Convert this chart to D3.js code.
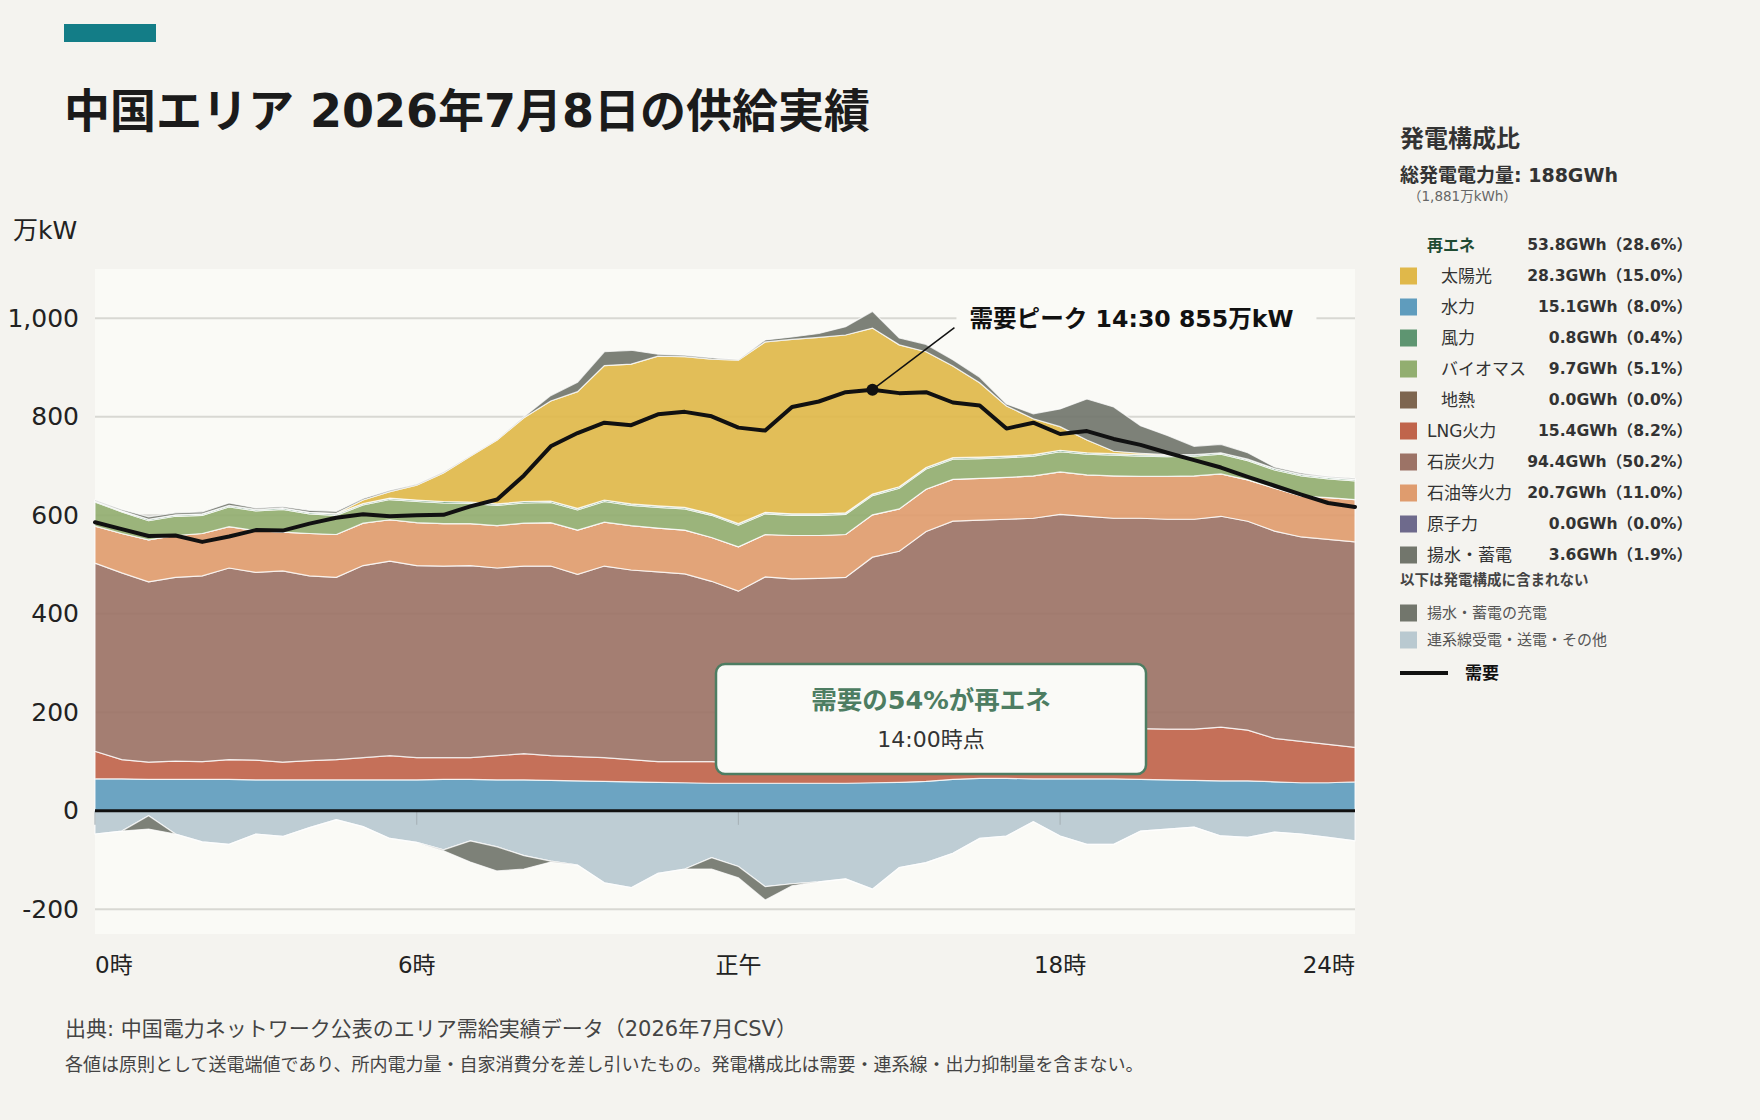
<!DOCTYPE html>
<html lang="ja">
<head>
<meta charset="utf-8"/>
<script src="https://d3js.org/d3.v7.min.js"></script>
<style>
  body { margin: 0; background: #f4f3ef; }
  text { font-family: "DejaVu Sans", "Noto Sans CJK JP", sans-serif; }
</style>
</head>
<body>
<svg id="chart" width="1760" height="1120"></svg>
<script>
  // 30-minute slots, 0:00 - 23:30 (万kW)
  const hours = d3.range(48).map(i => i / 2);

  const hydro = [65,65,64,64,64,64,63,63,63,63, 63,63,63,64,64,63,63,62,61,60, 59,58,57,56,56,56,56,56,56,57, 58,60,64,66,66,65,65,65,65,64, 63,62,61,61,59,57,57,59];
  const lng = [56,39,35,37,36,40,40,36,39,41, 45,49,45,44,44,49,53,50,49,48, 45,42,43,44,42,42,44,44,46,48, 52,60,66,74,84,93,98,101,103,103, 103,104,109,103,88,84,78,70];
  const coal = [382,379,366,373,377,389,381,388,375,370, 390,395,390,389,390,381,381,385,370,389, 385,385,381,366,348,377,371,372,372,410, 417,447,458,450,442,436,439,432,426,427, 426,426,428,424,421,415,416,417];
  const oil = [75,80,85,85,86,84,85,79,86,87, 86,84,87,86,85,86,87,88,90,89, 90,89,89,89,90,86,88,87,87,86, 86,86,85,85,85,86,86,84,86,85, 87,88,86,84,87,83,85,86];
  const nuclear = [0,0,0,0,0,0,0,0,0,0, 0,0,0,0,0,0,0,0,0,0, 0,0,0,0,0,0,0,0,0,0, 0,0,0,0,0,0,0,0,0,0, 0,0,0,0,0,0,0,0];
  const biomass = [49,44,39,39,37,40,40,46,40,39, 37,41,43,42,41,41,41,41,41,42, 41,42,43,45,44,42,41,41,41,39, 42,41,41,40,40,40,41,42,42,41, 40,40,40,39,37,41,38,38];
  const wind = [2,2,3,3,3,3,3,3,3,3, 3,3,3,3,3,3,3,3,3,3, 3,3,3,3,3,3,3,3,3,3, 3,3,3,3,3,3,3,3,3,3, 3,3,3,3,3,3,3,3];
  const geothermal = [0,0,0,0,0,0,0,0,0,0, 0,0,0,0,0,0,0,0,0,0, 0,0,0,0,0,0,0,0,0,0, 0,0,0,0,0,0,0,0,0,0, 0,0,0,0,0,0,0,0];
  const solar = [0,0,0,0,0,0,0,0,0,1, 7,13,30,58,93,130,170,203,237,273, 284,304,306,314,332,346,354,358,361,337, 288,235,186,151,102,73,48,26,5,3, 1,0,0,0,0,0,0,0];
  const pumped = [2,3,5,4,4,5,3,3,4,4, 3,3,2,2,1,1,2,11,19,28, 28,4,3,3,1,4,5,8,17,34, 14,15,13,11,4,10,36,83,90,56, 39,17,17,13,3,3,2,2];
  const interconnect = [-47,-41,-10,-47,-63,-68,-47,-52,-34,-18, -32,-56,-64,-79,-61,-73,-91,-102,-110,-146, -156,-127,-118,-95,-113,-154,-148,-144,-138,-159, -115,-105,-86,-56,-51,-22,-51,-68,-68,-41, -37,-33,-51,-54,-43,-47,-54,-61];
  const charging = [0,0,-27,0,0,0,0,0,0,0, 0,0,0,-2,-43,-49,-27,-2,0,0, 0,0,0,-23,-23,-27,-4,0,0,0, 0,0,0,0,0,0,0,0,0,0, 0,0,0,0,0,0,0,0];
  const demand = [586,572,558,559,546,557,570,569,583,595, 602,598,600,601,618,632,681,740,767,788, 783,805,810,801,778,772,820,831,850,855, 848,850,829,823,776,788,765,771,755,743, 727,712,697,678,660,642,625,617];

  const posKeys = ["hydro","lng","coal","oil","nuclear","biomass","wind","geothermal","solar","pumped"];
  const negKeys = ["interconnect","charging"];
  const seriesData = {hydro, lng, coal, oil, nuclear, biomass, wind, geothermal, solar, pumped, interconnect, charging};
  const colors = {
    hydro: "#5f9cbd", lng: "#c0644b", coal: "#9c7366", oil: "#df9c6e", nuclear: "#6e6a8c",
    biomass: "#92ae70", wind: "#5e9571", geothermal: "#7d654f", solar: "#e0b84a",
    pumped: "#72766c", interconnect: "#b9c9d0", charging: "#72766c"
  };

  // legend
  const legendLabels = ["再エネ","太陽光","水力","風力","バイオマス","地熱","LNG火力","石炭火力","石油等火力","原子力","揚水・蓄電"];
  const legendKeys = [null,"solar","hydro","wind","biomass","geothermal","lng","coal","oil","nuclear","pumped"];
  const legendIndent = [false,true,true,true,true,true,false,false,false,false,false];
  const legendGWh = [53.8,28.3,15.1,0.8,9.7,0.0,15.4,94.4,20.7,0.0,3.6];
  const legendPct = [28.6,15.0,8.0,0.4,5.1,0.0,8.2,50.2,11.0,0.0,1.9];
  const extraLabels = ["揚水・蓄電の充電","連系線受電・送電・その他"];
  const extraKeys = ["charging","interconnect"];

  const xTickValues = [0, 6, 12, 18, 24];
  const xTickLabels = ["0時","6時","正午","18時","24時"];
  const yTickValues = [-200, 0, 200, 400, 600, 800, 1000];
  const boxSlot = 28; // 14:00

  const svg = d3.select("#chart");
  const plot = {left: 95, right: 1355, top: 269, bottom: 934};

  const x = d3.scaleLinear().domain([0, 23.5]).range([plot.left, plot.right]);
  const y = d3.scaleLinear().domain([-250, 1100]).range([plot.bottom, plot.top]);

  // header
  svg.append("rect").attr("x", 64).attr("y", 24).attr("width", 92).attr("height", 18).attr("fill", "#137d87");
  svg.append("text").attr("x", 64).attr("y", 127)
    .attr("font-size", 46).attr("font-weight", 700).attr("fill", "#1b1b1b")
    .text("中国エリア 2026年7月8日の供給実績");

  svg.append("text").attr("x", 13).attr("y", 239)
    .attr("font-size", 25).attr("fill", "#222").text("万kW");

  // plot background + grid
  svg.append("rect").attr("x", plot.left).attr("y", plot.top)
    .attr("width", plot.right - plot.left).attr("height", plot.bottom - plot.top)
    .attr("fill", "#fafaf6");

  svg.append("g").selectAll("line").data(yTickValues.filter(d => d !== 0)).join("line")
    .attr("x1", plot.left).attr("x2", plot.right)
    .attr("y1", d => y(d)).attr("y2", d => y(d))
    .attr("stroke", "#d8d8d3").attr("stroke-width", 2);

  const rows = hours.map((h, i) => {
    const r = {h: h};
    Object.keys(seriesData).forEach(k => r[k] = seriesData[k][i]);
    return r;
  });

  const posStack = d3.stack().keys(posKeys)(rows);
  const negStack = d3.stack().keys(negKeys)(rows);

  const area = d3.area()
    .x(d => x(d.data.h))
    .y0(d => y(d[0]))
    .y1(d => y(d[1]));

  const areas = svg.append("g");
  areas.selectAll("path.pos").data(posStack).join("path")
    .attr("class", "pos")
    .attr("d", area)
    .attr("fill", d => colors[d.key]).attr("fill-opacity", 0.92)
    .attr("stroke", "#ffffff").attr("stroke-opacity", 0.75).attr("stroke-width", 1.2);
  areas.selectAll("path.neg").data(negStack).join("path")
    .attr("class", "neg")
    .attr("d", area)
    .attr("fill", d => colors[d.key]).attr("fill-opacity", 0.92)
    .attr("stroke", "#ffffff").attr("stroke-opacity", 0.75).attr("stroke-width", 1.2);

  // small ticks under zero line
  svg.append("g").selectAll("line").data(xTickValues.filter(d => d < 24)).join("line")
    .attr("x1", d => x(d)).attr("x2", d => x(d))
    .attr("y1", y(0)).attr("y2", y(0) + 14)
    .attr("stroke", "#a9b4b9").attr("stroke-width", 1.2);

  svg.append("line").attr("x1", plot.left).attr("x2", plot.right)
    .attr("y1", y(0)).attr("y2", y(0))
    .attr("stroke", "#111").attr("stroke-width", 3);

  // axes
  const yAxis = svg.append("g").attr("transform", "translate(" + plot.left + ",0)")
    .call(d3.axisLeft(y).tickValues(yTickValues).tickSize(0).tickPadding(16)
      .tickFormat(d => d3.format(",")(d).replace("\u2212", "-")));
  yAxis.select(".domain").remove();
  yAxis.attr("font-family", null);
  yAxis.selectAll("text").attr("font-size", 25).attr("fill", "#222");

  svg.append("g").selectAll("text").data(xTickValues).join("text")
    .attr("x", d => Math.min(x(d), plot.right))
    .attr("y", 973)
    .attr("text-anchor", (d, i) => i === 0 ? "start" : (d >= 24 ? "end" : "middle"))
    .attr("font-size", 23).attr("fill", "#222")
    .text((d, i) => xTickLabels[i]);

  // demand line
  svg.append("path").datum(demand)
    .attr("d", d3.line().x((d, i) => x(hours[i])).y(d => y(d)))
    .attr("fill", "none").attr("stroke", "#111").attr("stroke-width", 4)
    .attr("stroke-linejoin", "round").attr("stroke-linecap", "round");

  // peak annotation
  const peakIdx = d3.maxIndex(demand);
  const peakH = hours[peakIdx];
  const peakLabel = "需要ピーク " + Math.floor(peakH) + ":" + (peakH % 1 ? "30" : "00") + " " + demand[peakIdx] + "万kW";
  const px = x(peakH), py = y(demand[peakIdx]);
  svg.append("line").attr("x1", px).attr("y1", py).attr("x2", px + 82).attr("y2", py - 62)
    .attr("stroke", "#111").attr("stroke-width", 1.5);
  svg.append("circle").attr("cx", px).attr("cy", py).attr("r", 6).attr("fill", "#111");
  svg.append("rect").attr("x", px + 84).attr("y", y(1000) - 16).attr("width", 360).attr("height", 32)
    .attr("fill", "#fafaf6");
  svg.append("text").attr("x", px + 97).attr("y", y(1000)).attr("dy", "0.35em")
    .attr("font-size", 23.6).attr("font-weight", 700).attr("fill", "#111")
    .text(peakLabel);

  // renewable share box
  const ren = ["hydro","biomass","wind","geothermal","solar"].reduce((s, k) => s + seriesData[k][boxSlot], 0);
  const share = Math.round(ren / demand[boxSlot] * 100);
  const box = svg.append("g").attr("transform", "translate(716,664)");
  box.append("rect").attr("width", 430).attr("height", 110).attr("rx", 9)
    .attr("fill", "#fafaf7").attr("stroke", "#4d7d62").attr("stroke-width", 2.5);
  box.append("text").attr("x", 215).attr("y", 36).attr("dy", "0.35em").attr("text-anchor", "middle")
    .attr("font-size", 25.5).attr("font-weight", 700).attr("fill", "#4d7d62")
    .text("需要の" + share + "%が再エネ");
  box.append("text").attr("x", 215).attr("y", 75).attr("dy", "0.35em").attr("text-anchor", "middle")
    .attr("font-size", 22).attr("fill", "#333")
    .text(Math.floor(hours[boxSlot]) + ":00時点");

  // legend
  const lg = svg.append("g");
  lg.append("text").attr("x", 1400).attr("y", 139).attr("dy", "0.35em")
    .attr("font-size", 24).attr("font-weight", 700).attr("fill", "#333").text("発電構成比");
  lg.append("text").attr("x", 1400).attr("y", 175).attr("dy", "0.35em")
    .attr("font-size", 19).attr("font-weight", 700).attr("fill", "#333").text("総発電電力量: 188GWh");
  lg.append("text").attr("x", 1408).attr("y", 196).attr("dy", "0.35em")
    .attr("font-size", 13.5).attr("fill", "#666").text("（1,881万kWh）");

  const rowsG = lg.selectAll("g.row").data(legendLabels).join("g")
    .attr("class", "row")
    .attr("transform", (d, i) => "translate(1400," + (245 + i * 31) + ")");
  rowsG.filter((d, i) => legendKeys[i] !== null).append("rect")
    .attr("x", 0).attr("y", -8.5).attr("width", 17).attr("height", 17)
    .attr("fill", d => colors[legendKeys[legendLabels.indexOf(d)]]);
  rowsG.append("text")
    .attr("x", (d, i) => legendIndent[i] ? 41 : 27)
    .attr("dy", "0.35em")
    .attr("font-size", (d, i) => i === 0 ? 16 : 17)
    .attr("font-weight", (d, i) => i === 0 ? 700 : 400)
    .attr("fill", (d, i) => i === 0 ? "#1f4b33" : "#333")
    .text(d => d);
  rowsG.append("text")
    .attr("x", 292).attr("dy", "0.35em").attr("text-anchor", "end")
    .attr("font-size", 15.6).attr("font-weight", 700).attr("fill", "#333")
    .text((d, i) => legendGWh[i].toFixed(1) + "GWh（" + legendPct[i].toFixed(1) + "%）");

  lg.append("text").attr("x", 1400).attr("y", 580).attr("dy", "0.35em")
    .attr("font-size", 14.5).attr("font-weight", 700).attr("fill", "#444").text("以下は発電構成に含まれない");

  const extraG = lg.selectAll("g.extra").data(extraLabels).join("g")
    .attr("class", "extra")
    .attr("transform", (d, i) => "translate(1400," + (613 + i * 27) + ")");
  extraG.append("rect").attr("y", -8.5).attr("width", 17).attr("height", 17)
    .attr("fill", (d, i) => colors[extraKeys[i]]);
  extraG.append("text").attr("x", 27).attr("dy", "0.35em")
    .attr("font-size", 15).attr("fill", "#555").text(d => d);

  lg.append("line").attr("x1", 1400).attr("x2", 1448).attr("y1", 673).attr("y2", 673)
    .attr("stroke", "#111").attr("stroke-width", 4);
  lg.append("text").attr("x", 1465).attr("y", 673).attr("dy", "0.35em")
    .attr("font-size", 17).attr("font-weight", 700).attr("fill", "#111").text("需要");

  // footer
  svg.append("text").attr("x", 65).attr("y", 1029).attr("dy", "0.35em")
    .attr("font-size", 21).attr("fill", "#444")
    .text("出典: 中国電力ネットワーク公表のエリア需給実績データ（2026年7月CSV）");
  svg.append("text").attr("x", 65).attr("y", 1065).attr("dy", "0.35em")
    .attr("font-size", 18).attr("fill", "#444")
    .text("各値は原則として送電端値であり、所内電力量・自家消費分を差し引いたもの。発電構成比は需要・連系線・出力抑制量を含まない。");
</script>
</body>
</html>
